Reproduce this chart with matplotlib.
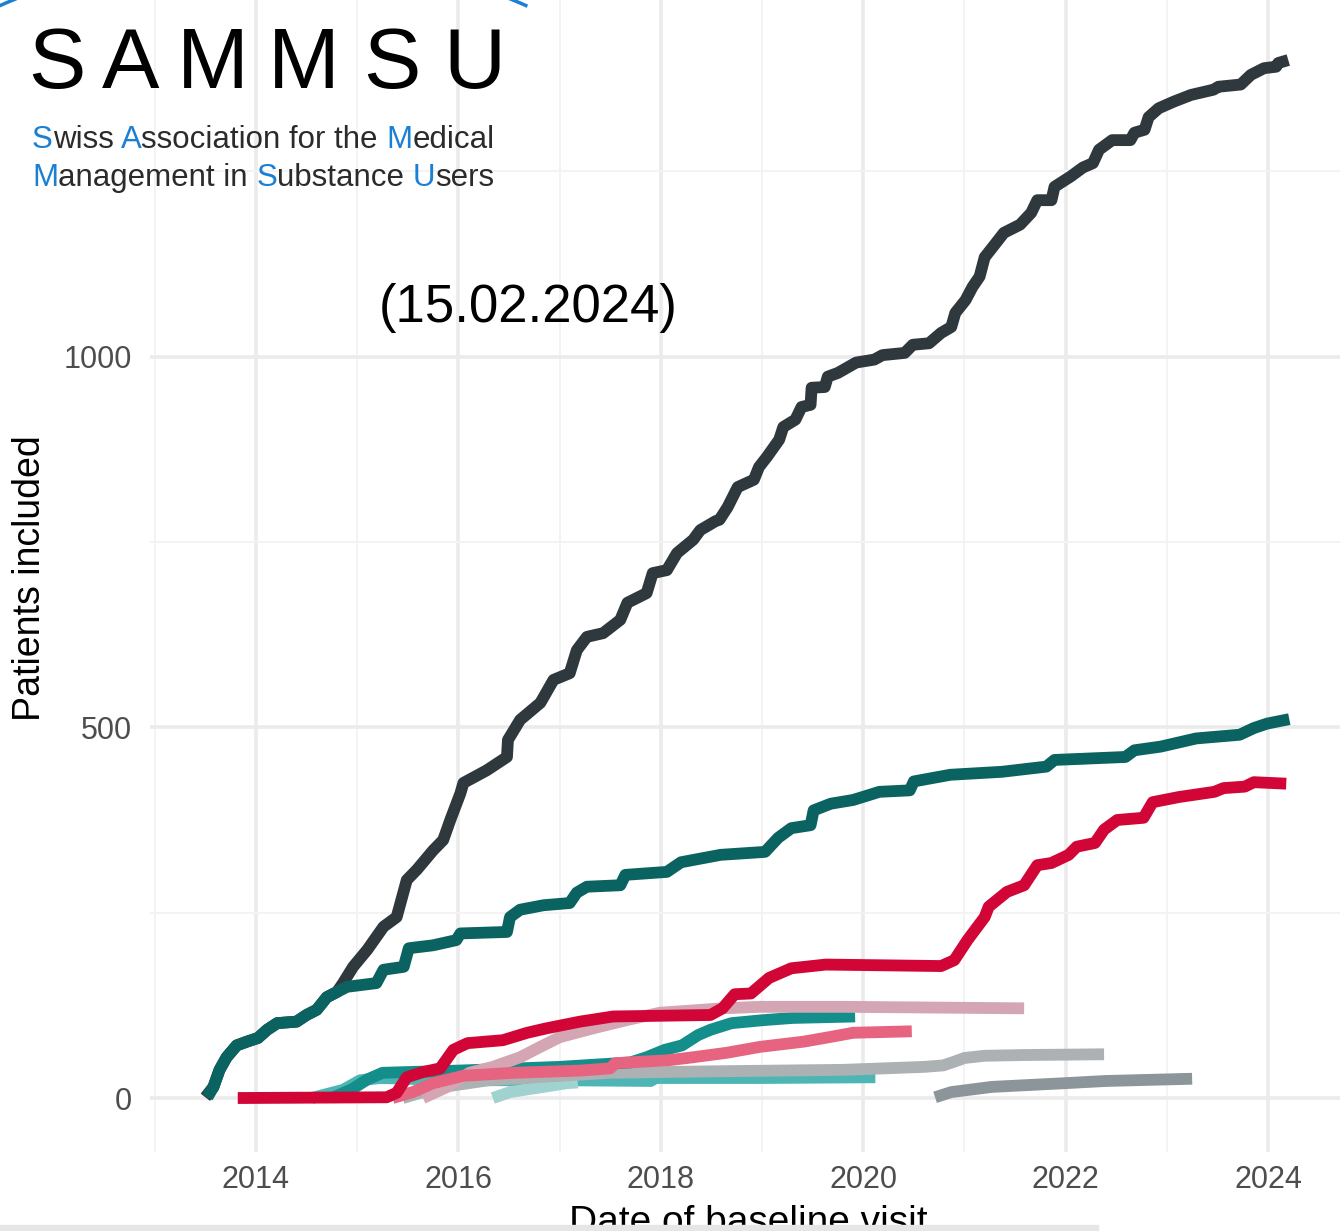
import matplotlib
matplotlib.use('Agg')
import matplotlib.pyplot as plt
from matplotlib.patches import Arc, Rectangle
from matplotlib.font_manager import FontProperties

plt.rcParams['font.family'] = ['Liberation Sans', 'DejaVu Sans']

# cumulative inclusions per study (x = decimal year of baseline visit)
total_x = [2013.50, 2013.58, 2013.64, 2013.71, 2013.81, 2013.91, 2014.02, 2014.11, 2014.21, 2014.40,
           2014.50, 2014.60, 2014.70, 2014.80, 2014.86, 2014.96, 2015.10, 2015.26, 2015.39, 2015.49,
           2015.59, 2015.75, 2015.85, 2015.92, 2016.02, 2016.05, 2016.28, 2016.48, 2016.49, 2016.61,
           2016.81, 2016.94, 2017.10, 2017.17, 2017.27, 2017.43, 2017.60, 2017.67, 2017.86, 2017.92,
           2018.06, 2018.16, 2018.32, 2018.39, 2018.54, 2018.58, 2018.66, 2018.76, 2018.92, 2018.97,
           2019.05, 2019.17, 2019.21, 2019.33, 2019.39, 2019.48, 2019.49, 2019.62, 2019.65, 2019.75,
           2019.93, 2020.11, 2020.19, 2020.41, 2020.49, 2020.65, 2020.77, 2020.87, 2020.91, 2021.01,
           2021.08, 2021.15, 2021.20, 2021.31, 2021.39, 2021.55, 2021.66, 2021.72, 2021.86, 2021.89,
           2022.05, 2022.17, 2022.27, 2022.33, 2022.46, 2022.64, 2022.68, 2022.78, 2022.82, 2022.92,
           2023.07, 2023.24, 2023.46, 2023.51, 2023.73, 2023.83, 2023.96, 2024.08, 2024.10, 2024.20]
total_y = [1, 15, 38, 55, 71, 76, 81, 92, 101, 103,
           112, 119, 136, 143, 155, 177, 200, 231, 244, 294,
           308, 334, 348, 375, 411, 425, 442, 460, 483, 510,
           533, 564, 573, 604, 622, 627, 645, 668, 681, 708,
           712, 735, 753, 766, 778, 780, 797, 824, 834, 851,
           865, 888, 905, 915, 932, 935, 958, 959, 973, 978,
           992, 996, 1002, 1005, 1016, 1018, 1032, 1040, 1059, 1076,
           1094, 1108, 1134, 1153, 1167, 1178, 1194, 1211, 1211, 1229,
           1243, 1255, 1261, 1279, 1292, 1292, 1302, 1306, 1323, 1335,
           1344, 1353, 1360, 1364, 1367, 1380, 1389, 1391, 1396, 1400]

teal_x = [2013.52, 2013.58, 2013.64, 2013.71, 2013.81, 2013.91, 2014.02, 2014.11, 2014.21, 2014.40,
          2014.50, 2014.60, 2014.70, 2014.80, 2014.90, 2015.19, 2015.26, 2015.46, 2015.51, 2015.75,
          2015.98, 2016.02, 2016.48, 2016.51, 2016.61, 2016.84, 2017.10, 2017.17, 2017.27, 2017.60,
          2017.65, 2018.06, 2018.20, 2018.59, 2019.03, 2019.16, 2019.29, 2019.48, 2019.51, 2019.68,
          2019.90, 2020.16, 2020.46, 2020.50, 2020.86, 2021.37, 2021.81, 2021.89, 2022.59, 2022.68,
          2022.94, 2023.29, 2023.72, 2023.86, 2023.99, 2024.21]
teal_y = [1, 15, 38, 55, 71, 76, 81, 92, 101, 103,
          112, 119, 136, 143, 150, 155, 173, 177, 202, 206,
          213, 222, 224, 244, 254, 260, 263, 277, 285, 287,
          301, 305, 318, 328, 332, 351, 364, 368, 388, 397,
          402, 413, 415, 427, 436, 440, 447, 456, 460, 469,
          474, 485, 490, 499, 505, 511]

red_x = [2013.82, 2015.29, 2015.39, 2015.49, 2015.65, 2015.82, 2015.95, 2016.09, 2016.44, 2016.68,
         2016.87, 2017.20, 2017.53, 2018.49, 2018.61, 2018.73, 2018.89, 2019.07, 2019.29, 2019.63,
         2020.77, 2020.90, 2021.03, 2021.20, 2021.24, 2021.42, 2021.59, 2021.72, 2021.86, 2022.03,
         2022.11, 2022.29, 2022.38, 2022.51, 2022.77, 2022.86, 2023.12, 2023.47, 2023.56, 2023.77,
         2023.86, 2024.18]
red_y = [0, 1, 7, 28, 35, 40, 65, 74, 78, 88,
         94, 103, 110, 112, 121, 140, 141, 162, 175, 180,
         178, 186, 213, 244, 258, 278, 287, 314, 317, 328,
         339, 344, 362, 375, 378, 399, 406, 413, 418, 420,
         426, 424]

mauve_x = [2015.65, 2015.89, 2016.11, 2016.34, 2016.61, 2016.81, 2017.00, 2017.33, 2017.66, 2017.99,
           2018.61, 2018.98, 2019.82, 2021.59]
mauve_y = [0, 15, 34, 42, 55, 69, 82, 94, 105, 115, 121, 123, 123, 121]

pink_x = [2015.35, 2015.55, 2015.75, 2016.05, 2016.54, 2017.20, 2017.50, 2017.55, 2018.08, 2018.32,
          2018.65, 2018.98, 2019.41, 2019.66, 2019.90, 2020.48]
pink_y = [0, 8, 20, 30, 34, 37, 40, 47, 51, 55, 61, 69, 76, 82, 88, 90]

midteal_x = [2014.75, 2014.95, 2015.10, 2015.25, 2016.00, 2017.00, 2017.70, 2017.86, 2018.04, 2018.21,
             2018.37, 2018.49, 2018.70, 2019.01, 2019.30, 2019.92]
midteal_y = [0, 12, 25, 34, 37, 42, 48, 55, 65, 71, 85, 92, 101, 105, 108, 110]

lightteal_x = [2014.55, 2014.86, 2015.03, 2015.23, 2016.00, 2017.00, 2017.90, 2017.95, 2019.00, 2020.12]
lightteal_y = [0, 11, 24, 27, 24, 24, 23, 27, 27, 28]

paleteal_x = [2016.34, 2016.51, 2016.84, 2017.07, 2017.18]
paleteal_y = [0, 8, 15, 20, 21]

grey_x = [2015.45, 2015.80, 2016.30, 2017.00, 2017.50, 2018.50, 2019.80, 2020.60, 2020.79, 2020.90,
          2021.00, 2021.20, 2021.60, 2022.38]
grey_y = [0, 14, 24, 30, 34, 36, 38, 42, 44, 49, 54, 57, 58, 59]

darkgrey_x = [2020.71, 2020.87, 2021.27, 2021.99, 2022.40, 2023.25]
darkgrey_y = [1, 8, 15, 20, 23, 26]

year_ticks = [2014, 2016, 2018, 2020, 2022, 2024]
count_ticks = [0, 500, 1000]

# (x, y, colour, zorder) bottom to top
series = [
    (lightteal_x, lightteal_y, '#4db6b5', 2),
    (paleteal_x, paleteal_y, '#a0d2cf', 3),
    (grey_x, grey_y, '#acb1b4', 4),
    (darkgrey_x, darkgrey_y, '#8c959a', 4),
    (midteal_x, midteal_y, '#138e8b', 5),
    (mauve_x, mauve_y, '#d4a5b3', 6),
    (pink_x, pink_y, '#e6647f', 7),
    (red_x, red_y, '#d10536', 8),
    (total_x, total_y, '#2e383d', 9),
    (teal_x, teal_y, '#0b6361', 10),
]

W, H = 1340, 1231
fig = plt.figure(figsize=(W / 100, H / 100), dpi=100)
ax = fig.add_axes([150 / W, (H - 1152) / H, (W - 150) / W, 1152 / H])

for xs, ys, col, z in series:
    ax.plot(xs, ys, color=col, lw=8.5, solid_capstyle='butt', solid_joinstyle='round', zorder=z)

ax.set_xlim(2012.953, 2024.711)
ax.set_ylim(-72.8, 1481)
ax.set_xticks(year_ticks)
ax.set_xticklabels([str(y) for y in year_ticks])
ax.set_xticks([2013, 2015, 2017, 2019, 2021, 2023], minor=True)
ax.set_yticks(count_ticks)
ax.set_yticks([250, 750, 1250], minor=True)
ax.grid(which='major', color='#ebebeb', lw=2.6)
ax.grid(which='minor', color='#f3f3f3', lw=1.4)
ax.set_axisbelow(True)
for s in ax.spines.values():
    s.set_visible(False)
ax.tick_params(which='both', length=0, labelsize=22, labelcolor='#4d4d4d')
ax.tick_params(axis='x', pad=9)
ax.tick_params(axis='y', pad=13)

# overlay in pixel coordinates for logo, labels and annotation
ov = fig.add_axes([0, 0, 1, 1])
ov.set_xlim(0, W)
ov.set_ylim(H, 0)
ov.axis('off')

ov.add_patch(Arc((263, 600), 1300, 1300, theta1=-114, theta2=-66, color='#1b7fd3', lw=2.5))

for ch, cx in zip('SAMMSU', [57, 131, 213, 304, 392, 474]):
    ov.text(cx, 88, ch, fontsize=62, ha='center', va='baseline', color='black')

renderer = fig.canvas.get_renderer()
sub_font = FontProperties(family=['Liberation Sans', 'DejaVu Sans'], size=22.5)


def text_w(s):
    return renderer.get_text_width_height_descent(s, sub_font, ismath=False)[0]


def colored_line(x0, y0, parts):
    full = ''.join(p for p, _ in parts)
    k = 0
    for p, col in parts:
        x = x0 if k == 0 else x0 + text_w(full[:k + 1]) - text_w(full[k])
        ov.text(x, y0, p, fontproperties=sub_font, color=col, ha='left', va='baseline')
        k += len(p)


blue, dark = '#1b7fd3', '#2b2b2b'
colored_line(32, 148, [('S', blue), ('wiss ', dark), ('A', blue), ('ssociation for the ', dark),
                       ('M', blue), ('edical', dark)])
colored_line(32, 186, [('M', blue), ('anagement in ', dark), ('S', blue), ('ubstance ', dark),
                       ('U', blue), ('sers', dark)])

ov.text(528, 308, '(15.02.2024)', fontsize=38, ha='center', va='center', color='black')
ov.text(30, 578, 'Patients included', fontsize=27, rotation=90, ha='center', va='center', color='black')
ov.text(748, 1233, 'Date of baseline visit', fontsize=28, ha='center', va='baseline', color='black')
ov.add_patch(Rectangle((0, 1225), 1098, 8, color='#e6e6e6', zorder=10))

fig.savefig('out.png', dpi=100)
